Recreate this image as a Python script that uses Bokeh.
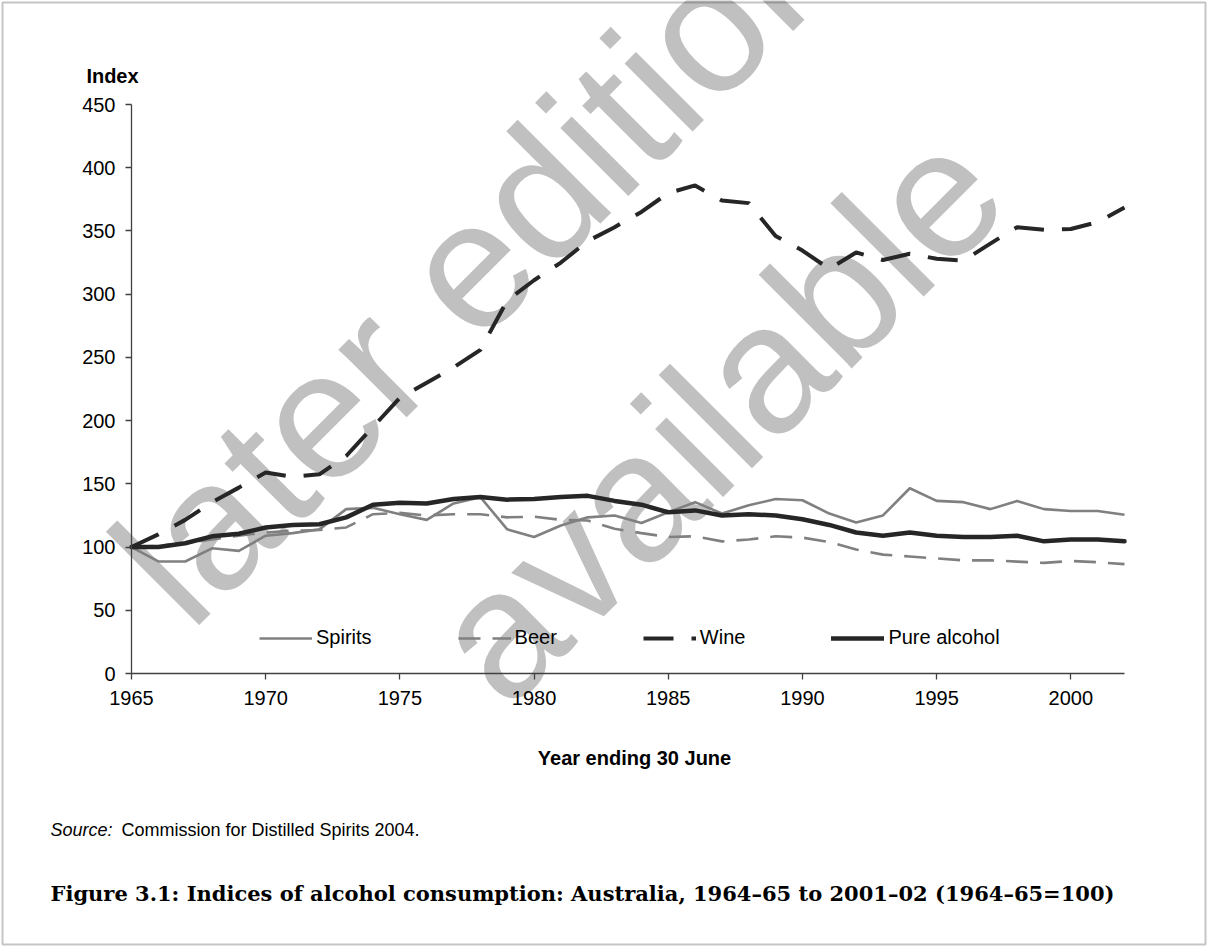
from math import pi
from bokeh.plotting import figure
from bokeh.models import Range1d, Label, Legend, LegendItem, BoxAnnotation, FixedTicker
from bokeh.embed import file_html
from bokeh.resources import INLINE

years = list(range(1965, 2003))
spirits = [100, 88.6, 88.6, 99, 97, 109, 111, 114, 130, 131, 126, 121.5, 134.5, 139.5,
           114, 108, 117, 123.5, 125, 119, 127.5, 135.5, 126.5, 133, 138, 137, 126.5,
           119.5, 125, 146.5, 136.5, 135.5, 130, 136.5, 130, 128.5, 128.5, 125.5]
beer = [100, 101, 103, 106, 109, 111.5, 113, 113.5, 115.5, 126, 127, 125, 126, 126,
        123.5, 124, 121.5, 121, 114.5, 111, 108, 108.5, 104.5, 106, 108.5, 107.5, 104,
        98, 94, 92.5, 91, 89.5, 89.5, 88.5, 87.5, 89, 88, 86.5]
wine = [100, 110, 121.5, 135.5, 147, 159, 155.5, 157.5, 172, 195, 218, 230, 242, 256,
        295, 311, 325, 342, 353, 365, 380, 386, 374, 372, 346, 334.5, 320, 333, 327,
        332, 328, 326.5, 340, 353, 351, 351.5, 357, 368.5]
pure_alcohol = [100, 100, 103, 108.5, 110.5, 115.5, 117.5, 118, 123.5, 133.5, 135, 134.5,
                138, 139.5, 137.5, 138, 139.5, 140.5, 136.5, 133.5, 127.5, 129, 125, 126,
                125, 122, 117.5, 111.5, 109, 111.5, 109, 108, 108, 109, 104.5, 106, 106,
                104.5]
x_ticks = [1965, 1970, 1975, 1980, 1985, 1990, 1995, 2000]
y_ticks = [0, 50, 100, 150, 200, 250, 300, 350, 400, 450]

W, H = 1207, 946
# plot-area placement in page pixels
FL, FR, FT, FB = 131, 1124, 104, 673
X0, X1, Y0, Y1 = 1965, 2002, 0, 450

def dx(px):
    return X0 + (px - FL) * (X1 - X0) / (FR - FL)

def dy(py):
    return Y0 + (FB - py) * (Y1 - Y0) / (FB - FT)

p = figure(width=W, height=H, x_range=Range1d(dx(0), dx(W)), y_range=Range1d(dy(H), dy(0)),
           output_backend="svg", toolbar_location=None,
           min_border_left=0, min_border_right=0, min_border_top=0, min_border_bottom=0)
p.outline_line_color = None
p.xgrid.visible = False
p.ygrid.visible = False
p.background_fill_color = "white"
p.border_fill_color = "white"

FONT = "Liberation Sans"
for ax in (p.xaxis[0], p.yaxis[0]):
    ax.axis_line_color = "#404040"
    ax.axis_line_width = 1.3
    ax.major_tick_line_color = "#404040"
    ax.major_tick_line_width = 1.3
    ax.major_tick_out = 6
    ax.major_tick_in = 0
    ax.minor_tick_line_color = None
    ax.major_label_text_font = FONT
    ax.major_label_text_font_size = "20px"
    ax.major_label_text_color = "black"
p.xaxis.ticker = FixedTicker(ticks=x_ticks)
p.yaxis.ticker = FixedTicker(ticks=y_ticks)
p.xaxis.bounds = (X0, X1)
p.yaxis.bounds = (Y0, Y1)
p.xaxis.fixed_location = Y0
p.yaxis.fixed_location = X0
p.xaxis.major_label_standoff = 11
p.yaxis.major_label_standoff = 10

# watermark
for txt, cx, cy in (("later edition", 478, 256), ("available", 716, 414)):
    p.add_layout(Label(x=dx(cx), y=dy(cy), text=txt, angle=pi / 4, text_align="center",
                       text_baseline="middle", text_font=FONT, text_font_size="182px",
                       text_color="#c0c0c0", level="underlay"))

r_sp = p.line(years, spirits, line_color="#808080", line_width=2.6, line_join="round")
r_be = p.line(years, beer, line_color="#808080", line_width=2.6, line_dash="22 12")
r_wi = p.line(years, wine, line_color="#262626", line_width=4, line_dash="30 18")
r_pu = p.line(years, pure_alcohol, line_color="#262626", line_width=4.5,
              line_join="round", line_cap="round")

legend = Legend(items=[LegendItem(label="Spirits", renderers=[r_sp]),
                       LegendItem(label="Beer", renderers=[r_be]),
                       LegendItem(label="Wine", renderers=[r_wi]),
                       LegendItem(label="Pure alcohol", renderers=[r_pu])],
                orientation="horizontal", location=(259, H - 637 - 12), glyph_width=53,
                glyph_height=20, label_height=20, label_standoff=4, spacing=86,
                padding=0, margin=0, border_line_color=None, background_fill_alpha=0,
                label_text_font=FONT, label_text_font_size="20px",
                label_text_color="black")
p.add_layout(legend)

def text(px, py, s, size="20px", style="normal", font=FONT, align="left"):
    p.add_layout(Label(x=dx(px), y=dy(py), text=s, text_align=align,
                       text_baseline="middle", text_font=font, text_font_style=style,
                       text_font_size=size, text_color="black"))

text(112, 75, "Index", style="bold", align="center")
text(634, 757, "Year ending 30 June", style="bold", align="center")
text(50, 829, "Source:", size="18px", style="italic")
text(121, 829, "Commission for Distilled Spirits 2004.", size="18px")
text(50, 893, "Figure 3.1: Indices of alcohol consumption: Australia, 1964\u201365 to 2001\u201302 (1964\u201365=100)",
     size="21px", style="bold", font="DejaVu Serif")

p.add_layout(BoxAnnotation(left=dx(2), right=dx(W - 2), top=dy(2), bottom=dy(H - 2),
                           fill_alpha=0, line_color="#404040", line_width=2,
                           level="overlay"))

open("out.html", "w").write(file_html(p, INLINE))
